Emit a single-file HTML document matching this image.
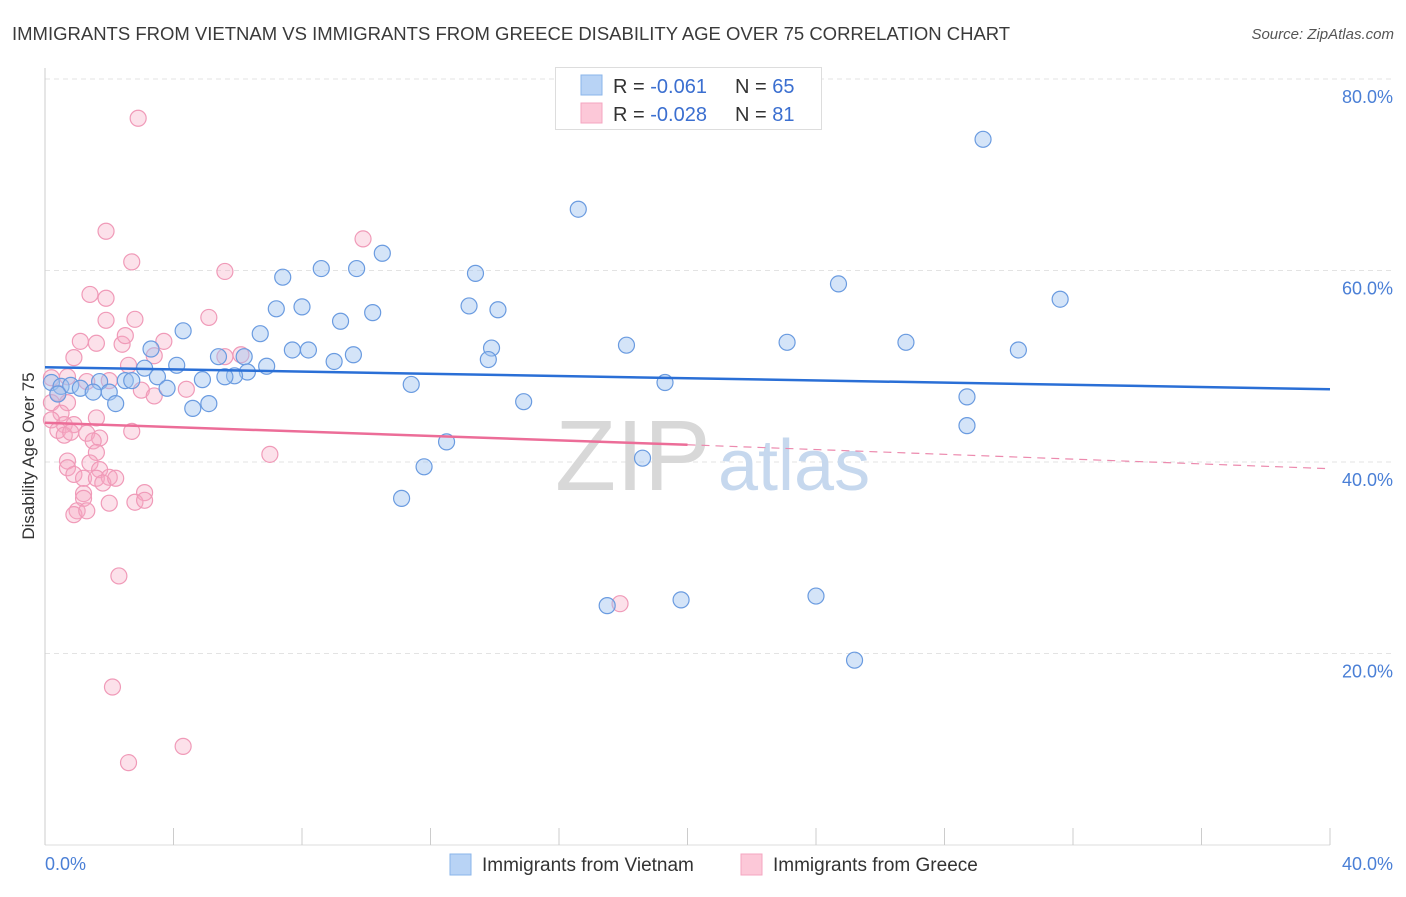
<!DOCTYPE html>
<html><head><meta charset="utf-8"><style>
body{margin:0;background:#fff;font-family:"Liberation Sans",sans-serif;}
svg text{font-family:"Liberation Sans",sans-serif;}
</style></head><body>
<svg id="chart" width="1406" height="892" xmlns="http://www.w3.org/2000/svg">
<text x="12" y="40" font-size="18.5" fill="#3a3a3a">IMMIGRANTS FROM VIETNAM VS IMMIGRANTS FROM GREECE DISABILITY AGE OVER 75 CORRELATION CHART</text>
<text x="1394" y="39" font-size="15" fill="#555" font-style="italic" text-anchor="end">Source: ZipAtlas.com</text>
<g id="grid"></g>
<g id="axes"></g>
<text x="555" y="490" font-size="100" fill="#d8d8d8" font-family="Liberation Serif">ZIP</text>
<text x="718" y="490" font-size="72" fill="#c6d8ee">atlas</text>
<g id="pts"></g>
<g id="lines"></g>
<g>
<rect x="555.5" y="67.5" width="266" height="62" fill="#fff" stroke="#ddd"/>
<rect x="581" y="75" width="21" height="20" fill="#b8d3f5" stroke="#8ab4ea"/>
<rect x="581" y="103" width="21" height="20" fill="#fcc8d8" stroke="#f4a6c0"/>
<text x="613" y="93" font-size="20" fill="#333">R = <tspan fill="#3b6fd0">-0.061</tspan><tspan x="735">N = </tspan><tspan fill="#3b6fd0">65</tspan></text>
<text x="613" y="121" font-size="20" fill="#333">R = <tspan fill="#3b6fd0">-0.028</tspan><tspan x="735">N = </tspan><tspan fill="#3b6fd0"> 81</tspan></text>
</g>
<g>
<rect x="450" y="854" width="21" height="21" fill="#b8d3f5" stroke="#8ab4ea"/>
<text x="482" y="871" font-size="19" fill="#333">Immigrants from Vietnam</text>
<rect x="741" y="854" width="21" height="21" fill="#fcc8d8" stroke="#f4a6c0"/>
<text x="773" y="871" font-size="19" fill="#333">Immigrants from Greece</text>
</g>
<text transform="translate(34,456) rotate(-90)" font-size="17" fill="#333" text-anchor="middle">Disability Age Over 75</text>
</svg>
<script>
const yTicks=[20,40,60,80];
const yTickLabels=["20.0%","40.0%","60.0%","80.0%"];
const xTickLabels=["0.0%","40.0%"];
const vietnamX=[16.6,29.2,24.7,31.6,10.5,8.6,9.7,7.4,13.4,7.2,8.0,13.2,14.1,10.2,9.2,4.3,6.7,18.1,23.1,26.8,30.3,3.3,7.7,8.2,9.6,5.4,6.2,13.9,13.8,9.0,4.1,6.9,3.1,6.3,5.9,5.6,3.5,4.9,2.5,2.7,1.7,19.3,11.4,3.8,0.2,0.5,0.8,1.1,0.4,1.5,2.0,28.7,14.9,2.2,5.1,4.6,28.7,12.5,18.6,11.8,11.1,17.5,19.8,24.0,25.2];
const vietnamY=[66.4,73.7,58.6,57.0,61.8,60.2,60.2,59.3,59.7,56.0,56.2,56.3,55.9,55.6,54.7,53.7,53.4,52.2,52.5,52.5,51.7,51.8,51.7,51.7,51.2,51.0,51.0,51.9,50.7,50.5,50.1,50.0,49.8,49.4,49.0,48.9,48.9,48.6,48.5,48.5,48.4,48.3,48.1,47.7,48.3,47.9,48.0,47.7,47.1,47.3,47.3,46.8,46.3,46.1,46.1,45.6,43.8,42.1,40.4,39.5,36.2,25.0,25.6,26.0,19.3];
const greeceX=[2.9,1.9,2.7,5.6,9.9,1.4,1.9,1.9,2.8,5.1,1.1,1.6,2.4,2.5,3.7,3.4,0.9,6.1,2.6,0.7,1.3,2.0,3.0,4.4,3.4,0.2,0.4,0.2,0.7,0.5,0.2,1.6,0.6,0.9,0.4,0.6,0.8,1.3,2.7,1.7,1.5,1.6,1.4,0.7,0.7,0.9,1.7,1.2,1.6,2.0,1.8,2.2,1.2,1.2,3.1,2.8,3.1,2.0,1.0,0.9,1.3,2.3,17.9,2.1,4.3,2.6,7.0,5.6];
const greeceY=[75.9,64.1,60.9,59.9,63.3,57.5,57.1,54.8,54.9,55.1,52.6,52.4,52.3,53.2,52.6,51.1,50.9,51.2,50.1,48.9,48.4,48.5,47.5,47.6,46.9,48.8,47.2,46.2,46.2,45.1,44.4,44.6,43.9,43.9,43.3,42.8,43.1,43.0,43.2,42.5,42.2,41.0,39.9,40.1,39.4,38.7,39.2,38.3,38.3,38.4,37.8,38.3,36.7,36.2,36.8,35.8,36.0,35.7,34.9,34.5,34.9,28.1,25.2,16.5,10.3,8.6,40.8,51.0];
const vietnamTrend=[49.9,47.6];
const greeceTrend=[44.1,41.8,39.3];
const NS="http://www.w3.org/2000/svg";
const X0=45,X1=1330,Y0=845,PPY=9.575;
function sx(v){return X0+(v/40)*(X1-X0);}
function sy(v){return Y0-v*PPY;}
function mk(tag,attrs,parent){const e=document.createElementNS(NS,tag);for(const k in attrs)e.setAttribute(k,attrs[k]);parent.appendChild(e);return e;}
const grid=document.getElementById('grid'),axes=document.getElementById('axes');
yTicks.forEach((t,i)=>{
  const l=mk('line',{x1:X0,x2:1394,y1:sy(t),y2:sy(t),stroke:'#e3e3e3','stroke-dasharray':'5,4'},grid);
  
  
  const tx=mk('text',{x:1393,y:sy(t)+24,'font-size':18,fill:'#4a7fd6','text-anchor':'end'},axes);
  tx.textContent=yTickLabels[i];
  
  
});
mk('line',{x1:X0,x2:X0,y1:68,y2:Y0,stroke:'#ccc'},axes);
mk('line',{x1:X0,x2:X1,y1:Y0,y2:Y0,stroke:'#ddd'},axes);
for(let i=0;i<=10;i++){const x=sx(i*4);mk('line',{x1:x,x2:x,y1:828,y2:Y0,stroke:'#ccc'},axes);}
const xl0=mk('text',{x:45,y:870,'font-size':18,fill:'#4a7fd6'},axes);xl0.textContent=xTickLabels[0];


const xl1=mk('text',{x:1393,y:870,'font-size':18,fill:'#4a7fd6','text-anchor':'end'},axes);xl1.textContent=xTickLabels[1];


const pts=document.getElementById('pts');
greeceX.forEach((v,i)=>{const c=mk('circle',{cx:sx(v),cy:sy(greeceY[i]),r:8,fill:'rgba(246,168,196,0.35)',stroke:'#f09ab8','stroke-width':1.2},pts);
  
  });
vietnamX.forEach((v,i)=>{const c=mk('circle',{cx:sx(v),cy:sy(vietnamY[i]),r:8,fill:'rgba(160,196,240,0.45)',stroke:'#6a9be0','stroke-width':1.2},pts);
  
  });
const lines=document.getElementById('lines');
const bl=mk('line',{x1:sx(0),y1:sy(vietnamTrend[0]),x2:sx(40),y2:sy(vietnamTrend[1]),stroke:'#2a6fd6','stroke-width':2.5},lines);


const pl=mk('line',{x1:sx(0),y1:sy(greeceTrend[0]),x2:sx(20),y2:sy(greeceTrend[1]),stroke:'#ec6d98','stroke-width':2.5},lines);


const pd=mk('line',{x1:sx(20),y1:sy(greeceTrend[1]),x2:sx(40),y2:sy(greeceTrend[2]),stroke:'#ec8aae','stroke-width':1.2,'stroke-dasharray':'8,6'},lines);


</script>
</body></html>
